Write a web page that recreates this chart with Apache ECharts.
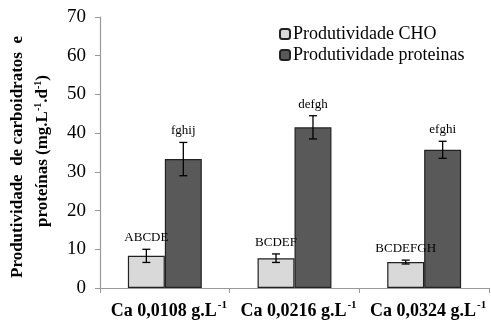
<!DOCTYPE html>
<html><head><meta charset="utf-8">
<script src="https://cdn.jsdelivr.net/npm/echarts@6/dist/echarts.min.js"></script>
<style>html,body{margin:0;padding:0;background:#fff}#c{width:491px;height:323px}</style>
</head><body><div id="c"></div>
<script>
const categories = ['Ca 0,0108 g.L', 'Ca 0,0216 g.L', 'Ca 0,0324 g.L'];
const seriesNames = ['Produtividade CHO', 'Produtividade proteinas'];
const choValues = [8.3, 7.7, 6.7];
const choErrors = [1.7, 1.1, 0.5];
const choLetters = ['ABCDE', 'BCDEF', 'BCDEFGH'];
const protValues = [33.3, 41.5, 35.7];
const protErrors = [4.3, 3.0, 2.2];
const protLetters = ['fghij', 'defgh', 'efghi'];
const yTicks = [0, 10, 20, 30, 40, 50, 60, 70];

const FONT = '"Liberation Serif", "Times New Roman", serif';
const chart = echarts.init(document.getElementById('c'));

function errSeries(vals, errs, letters, offsetIdx) {
  return {
    type: 'custom',
    z: 10,
    data: vals.map((v, i) => [i, v, errs[i]]),
    renderItem: function (params, api) {
      const i = api.value(0);
      const v = api.value(1);
      const e = api.value(2);
      const bw = api.size([1, 0])[0];
      const barW = bw * 0.285;
      const cx = api.coord([i, 0])[0] + (offsetIdx === 0 ? -barW / 2 : barW / 2);
      const top = api.coord([i, v + e])[1];
      const bot = api.coord([i, v - e])[1];
      const cap = 4;
      const st = { stroke: '#000', lineWidth: 1.3 };
      return {
        type: 'group',
        children: [
          { type: 'line', shape: { x1: cx, y1: top, x2: cx, y2: bot }, style: st },
          { type: 'line', shape: { x1: cx - cap, y1: top, x2: cx + cap, y2: top }, style: st },
          { type: 'line', shape: { x1: cx - cap, y1: bot, x2: cx + cap, y2: bot }, style: st },
          { type: 'text', x: cx, y: top - 5, style: { text: letters[i], fontFamily: FONT, fontSize: 13, fill: '#000', align: 'center', verticalAlign: 'bottom' } }
        ]
      };
    }
  };
}

chart.setOption({
  animation: false,
  grid: { left: 100, right: 2, top: 17, bottom: 35, containLabel: false },
  legend: {
    data: seriesNames,
    orient: 'vertical',
    left: 274,
    top: 20,
    itemWidth: 10,
    itemHeight: 10,
    itemGap: 3,
    textStyle: { fontFamily: FONT, fontSize: 18, color: '#000', padding: [0, 0, 0, -2] }
  },
  xAxis: {
    type: 'category',
    data: categories,
    axisLine: { lineStyle: { color: '#999', width: 1.2 } },
    axisTick: { show: true, length: 5, lineStyle: { color: '#999' } },
    axisLabel: {
      interval: 0,
      margin: 12,
      formatter: v => '{a|' + v + '}{s|-1}',
      rich: {
        a: { fontFamily: FONT, fontSize: 18, fontWeight: 'bold', color: '#000', padding: [0, 0, 0, 8] },
        s: { fontFamily: FONT, fontSize: 11, fontWeight: 'bold', color: '#000', verticalAlign: 'top', padding: [0, 0, 12, 1] }
      }
    }
  },
  yAxis: {
    type: 'value',
    min: yTicks[0],
    max: yTicks[yTicks.length - 1],
    interval: 10,
    splitLine: { show: false },
    axisLine: { show: true, lineStyle: { color: '#999', width: 1.2 } },
    axisTick: { show: true, length: 5, lineStyle: { color: '#999' } },
    axisLabel: { fontFamily: FONT, fontSize: 19, color: '#000', margin: 14 }
  },
  graphic: [{
    type: 'text',
    x: 18, y: 157,
    rotation: Math.PI / 2,
    style: {
      text: 'Produtividade  de carboidratos  e',
      fontFamily: FONT, fontSize: 17, fontWeight: 'bold', fill: '#000',
      align: 'center', verticalAlign: 'middle'
    }
  }, {
    type: 'text',
    x: 43, y: 151,
    rotation: Math.PI / 2,
    style: {
      text: '{t|proteínas (mg.L}{s|-1}{t|.d}{s|-1}{t|)}',
      align: 'center',
      verticalAlign: 'middle',
      rich: {
        t: { fontFamily: FONT, fontSize: 17, fontWeight: 'bold', color: '#000' },
        s: { fontFamily: FONT, fontSize: 10, fontWeight: 'bold', color: '#000', padding: [0, 0, 10, 0] }
      }
    }
  }],
  series: [
    {
      name: seriesNames[0], type: 'bar', data: choValues,
      barGap: '0%', barCategoryGap: '43%',
      itemStyle: { color: '#d9d9d9', borderColor: '#222', borderWidth: 1.2 }
    },
    {
      name: seriesNames[1], type: 'bar', data: protValues,
      itemStyle: { color: '#595959', borderColor: '#222', borderWidth: 1.2 }
    },
    errSeries(choValues, choErrors, choLetters, 0),
    errSeries(protValues, protErrors, protLetters, 1)
  ]
});
</script></body></html>
